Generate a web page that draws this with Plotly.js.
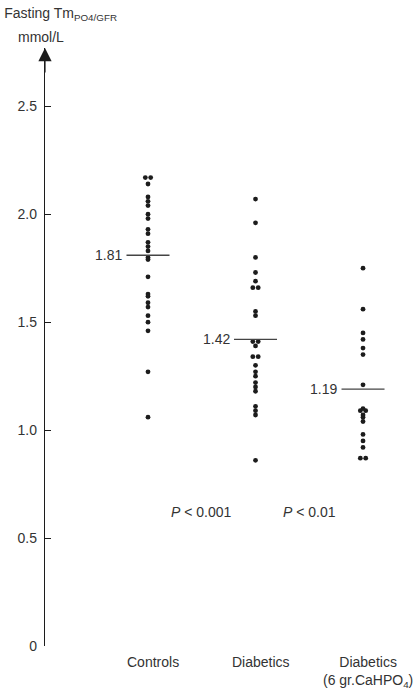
<!DOCTYPE html>
<html>
<head>
<meta charset="utf-8">
<script src="https://cdn.plot.ly/plotly-3.0.1.min.js"></script>
<style>
  html, body { margin: 0; padding: 0; background: #fff; }
  #chart { width: 420px; height: 690px; }
</style>
</head>
<body>
<div id="chart"></div>
<script>
// groups, left to right
const groups = ["Controls", "Diabetics", "Diabetics<br>(6 gr.CaHPO<sub>4</sub>)"];

// individual values (mmol/L)
const controls = [2.17, 2.17, 2.14, 2.08, 2.06, 2.04, 2.00, 1.98, 1.93, 1.91,
  1.87, 1.85, 1.83, 1.80, 1.79, 1.71, 1.63, 1.62, 1.59, 1.57,
  1.53, 1.50, 1.46, 1.27, 1.06];
const diabetics = [2.07, 1.96, 1.80, 1.73, 1.69, 1.66, 1.66, 1.55, 1.53,
  1.41, 1.41, 1.39, 1.34, 1.34, 1.30, 1.27, 1.25, 1.22, 1.20, 1.18,
  1.11, 1.09, 1.07, 0.86];
const diabeticsCa = [1.75, 1.56, 1.45, 1.42, 1.38, 1.35, 1.21, 1.10, 1.09, 1.09,
  1.07, 1.06, 1.04, 0.98, 0.95, 0.92, 0.87, 0.87];

const means = [1.81, 1.42, 1.19];
const pLabels = ["<i>P</i> &lt; 0.001", "<i>P</i> &lt; 0.01"];

const yTicks = [0, 0.5, 1.0, 1.5, 2.0, 2.5];
const yTickText = ["0", "0.5", "1.0", "1.5", "2.0", "2.5"];

const INK = "#1c1c1c";
const TXT = "#333";
const FONT = "Liberation Sans, Arial, sans-serif";

// spread identical values sideways so they sit next to each other
function spread(vals, gx) {
  let xs = [];
  let i = 0;
  while (i < vals.length) {
    let j = i;
    while (j < vals.length && vals[j] === vals[i]) j++;
    let n = j - i;
    for (let k = 0; k < n; k++) xs.push(gx + (k - (n - 1) / 2) * 0.05);
    i = j;
  }
  return xs;
}

let traces = [];
[controls, diabetics, diabeticsCa].forEach(function (vals, g) {
  traces.push({
    x: spread(vals, g),
    y: vals,
    mode: "markers",
    marker: { size: 4.8, color: INK },
    cliponaxis: false,
    hoverinfo: "skip"
  });
});

means.forEach(function (m, g) {
  traces.push({
    x: [g - 0.2, g + 0.2],
    y: [m, m],
    mode: "lines",
    line: { color: "#444", width: 1.3 },
    hoverinfo: "skip"
  });
});

let annotations = [];

means.forEach(function (m, g) {
  annotations.push({
    x: g - 0.22, y: m, xref: "x", yref: "y",
    text: m.toFixed(2), showarrow: false,
    xanchor: "right", yanchor: "middle",
    font: { size: 14, color: TXT, family: FONT }
  });
});

pLabels.forEach(function (t, i) {
  annotations.push({
    x: i + 0.5, y: 0.62, xref: "x", yref: "y",
    text: t, showarrow: false,
    xanchor: "center", yanchor: "middle",
    font: { size: 14, color: TXT, family: FONT }
  });
});

groups.forEach(function (t, g) {
  annotations.push({
    x: g + 0.05, y: -0.01, xref: "x", yref: "paper",
    text: t, showarrow: false,
    xanchor: "center", yanchor: "top",
    font: { size: 14, color: TXT, family: FONT }
  });
});

annotations.push({
  x: -0.01, y: 1.018, xref: "paper", yref: "paper",
  text: "mmol/L", showarrow: false,
  xanchor: "center", yanchor: "middle",
  font: { size: 14, color: TXT, family: FONT }
});

// arrow head on top of the y axis
annotations.push({
  x: 0, y: 1, xref: "paper", yref: "paper",
  ax: 0, ay: 26, axref: "pixel", ayref: "pixel",
  text: "", showarrow: true,
  arrowhead: 2, arrowsize: 2.2, arrowwidth: 1.2, arrowcolor: INK
});

Plotly.newPlot("chart", traces, {
  width: 420,
  height: 690,
  margin: { l: 45, r: 0, t: 48, b: 44 },
  paper_bgcolor: "#fff",
  plot_bgcolor: "#fff",
  showlegend: false,
  font: { family: FONT, color: TXT, size: 14 },
  title: {
    text: "Fasting Tm<sub>PO4/GFR</sub>",
    x: 0.01, xanchor: "left",
    y: 0.981, yanchor: "middle",
    font: { size: 14, color: TXT, family: FONT }
  },
  xaxis: {
    range: [-0.958, 2.53],
    visible: false,
    fixedrange: true
  },
  yaxis: {
    range: [0, 2.77],
    showgrid: false,
    zeroline: false,
    showline: true,
    linecolor: INK,
    linewidth: 1.2,
    ticks: "inside",
    ticklen: 6,
    tickcolor: INK,
    tickwidth: 1,
    tickvals: yTicks,
    ticktext: yTickText,
    ticklabelstandoff: 4,
    tickfont: { size: 14, color: TXT, family: FONT },
    fixedrange: true
  },
  annotations: annotations
}, { staticPlot: true });
</script>
</body>
</html>
